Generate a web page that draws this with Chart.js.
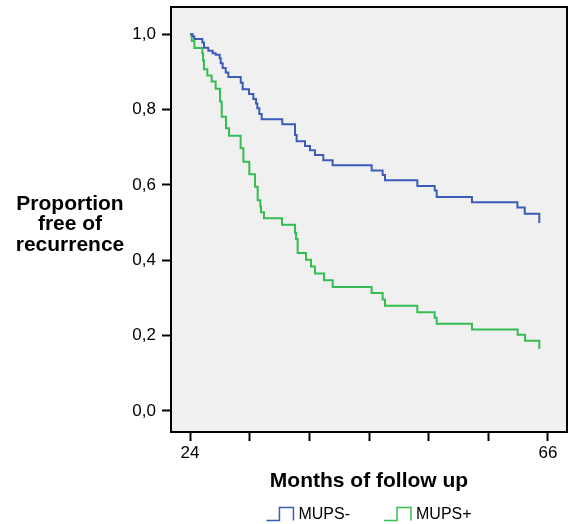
<!DOCTYPE html>
<html>
<head>
<meta charset="utf-8">
<script src="https://cdn.jsdelivr.net/npm/chart.js"></script>
<style>
  body { margin: 0; background: #fff; }
  #wrap { width: 571px; height: 524px; }
</style>
</head>
<body>
<div id="wrap"><canvas id="km"></canvas></div>
<script>
// Kaplan-Meier curves (months, proportion free of recurrence)
const monthsNeg = [24, 24.31, 24.51, 25.45, 25.64, 26.15, 26.66, 27.01, 27.48, 27.6,
  27.83, 28.19, 28.5, 29.95, 30.18, 30.92, 31.43, 31.75, 31.9, 32.13,
  32.41, 34.83, 36.32, 36.51, 37.49, 38.08, 38.66, 39.64, 40.73, 45.31,
  46.6, 46.88, 50.67, 52.71, 52.94, 57.08, 62.41, 63.27, 64.98];
const propNeg = [1.0, 0.994, 0.987, 0.978, 0.964, 0.956, 0.949, 0.945, 0.936, 0.923,
  0.910, 0.898, 0.886, 0.871, 0.854, 0.841, 0.828, 0.816, 0.803, 0.788,
  0.774, 0.761, 0.732, 0.716, 0.703, 0.692, 0.679, 0.665, 0.652, 0.638,
  0.626, 0.612, 0.597, 0.585, 0.568, 0.554, 0.540, 0.523, 0.499];

const monthsPos = [24, 24.2, 24.51, 25.45, 25.53, 25.64, 26.03, 26.54, 27.01, 27.52,
  27.72, 28.22, 28.58, 29.94, 30.26, 30.96, 31.63, 31.94, 32.25, 32.33,
  32.68, 34.79, 36.32, 36.44, 36.63, 37.61, 38.2, 38.66, 39.72, 40.74,
  45.31, 46.6, 46.88, 50.67, 52.7, 52.94, 57.08, 62.44, 63.3, 64.98];
const propPos = [1.0, 0.982, 0.963, 0.949, 0.930, 0.907, 0.890, 0.874, 0.855, 0.821,
  0.781, 0.750, 0.730, 0.697, 0.661, 0.628, 0.595, 0.559, 0.543, 0.527,
  0.511, 0.494, 0.473, 0.456, 0.419, 0.401, 0.383, 0.365, 0.347, 0.329,
  0.313, 0.296, 0.279, 0.262, 0.247, 0.231, 0.216, 0.202, 0.186, 0.165];

const seriesNames = ["MUPS-", "MUPS+"];
const xTicks = [24, 31, 38, 45, 52, 59, 66];
const xTickLabels = ["24", "", "", "", "", "", "66"];
const yTicks = [0, 0.2, 0.4, 0.6, 0.8, 1.0];

const FONT = '"Liberation Sans", Arial, Helvetica, sans-serif';
const BLUE = "#3d5bb9";
const GREEN = "#35bd52";

function toPoints(xs, ys) {
  return xs.map((x, i) => ({ x: x, y: ys[i] }));
}

// grey plot panel + black frame
const panel = {
  id: "panel",
  beforeDatasetsDraw(chart) {
    const { ctx, chartArea: a } = chart;
    ctx.save();
    ctx.fillStyle = "#f0f0f0";
    ctx.fillRect(a.left, a.top, a.right - a.left, a.bottom - a.top);
    ctx.restore();
  },
  afterDraw(chart) {
    const { ctx, chartArea: a } = chart;
    ctx.save();
    ctx.strokeStyle = "#000";
    ctx.lineWidth = 2;
    ctx.strokeRect(a.left, a.top, a.right - a.left, a.bottom - a.top);
    ctx.restore();
  }
};

// horizontal y title, SPSS style
const yTitle = {
  id: "yTitle",
  afterDraw(chart) {
    const ctx = chart.ctx;
    ctx.save();
    ctx.font = "bold 21px " + FONT;
    ctx.fillStyle = "#000";
    ctx.textAlign = "center";
    ctx.textBaseline = "alphabetic";
    ["Proportion", "free of", "recurrence"].forEach((t, i) => {
      ctx.fillText(t, 70, 209.5 + i * 20.8);
    });
    ctx.restore();
  }
};

// legend with little step icons, centred under the plot
const kmLegend = {
  id: "kmLegend",
  afterDraw(chart) {
    const { ctx, chartArea: a } = chart;
    ctx.save();
    ctx.font = "16px " + FONT;
    const items = chart.data.datasets.map(ds => ({
      label: ds.label, color: ds.borderColor, w: ctx.measureText(ds.label).width
    }));
    const iconW = 27, gap = 5, itemGap = 34;
    const total = items.reduce((s, it) => s + iconW + gap + it.w, 0) + itemGap * (items.length - 1);
    let x = (a.left + a.right) / 2 - total / 2;
    const yb = 520.5, yt = 507.5;
    items.forEach(it => {
      ctx.strokeStyle = it.color;
      ctx.lineWidth = 1.5;
      ctx.beginPath();
      ctx.moveTo(x, yb);
      ctx.lineTo(x + 13, yb);
      ctx.lineTo(x + 13, yt);
      ctx.lineTo(x + iconW, yt);
      ctx.lineTo(x + iconW, yb);
      ctx.stroke();
      ctx.fillStyle = "#000";
      ctx.textBaseline = "alphabetic";
      ctx.fillText(it.label, x + iconW + gap, 518.5);
      x += iconW + gap + it.w + itemGap;
    });
    ctx.restore();
  }
};

new Chart(document.getElementById("km"), {
  type: "line",
  data: {
    datasets: [
      {
        label: seriesNames[0],
        data: toPoints(monthsNeg, propNeg),
        borderColor: BLUE,
        borderWidth: 2,
        stepped: "before",
        pointRadius: 0,
        fill: false,
      },
      {
        label: seriesNames[1],
        data: toPoints(monthsPos, propPos),
        borderColor: GREEN,
        borderWidth: 2,
        stepped: "before",
        pointRadius: 0,
        fill: false,
      },
    ],
  },
  options: {
    responsive: true,
    maintainAspectRatio: false,
    animation: false,
    layout: { padding: { top: 7, right: 4, left: 0, bottom: 0 } },
    plugins: {
      legend: { display: false },
      tooltip: { enabled: false },
    },
    scales: {
      x: {
        type: "linear",
        min: 21.77,
        max: 68.23,
        afterBuildTicks: s => { s.ticks = xTicks.map(v => ({ value: v })); },
        afterFit: s => { s.height = 92; s.paddingLeft = 0; s.paddingRight = 0; },
        ticks: {
          color: "#000",
          font: { family: FONT, size: 17 },
          padding: 2,
          maxRotation: 0,
          callback: (v, i) => xTickLabels[i],
        },
        grid: { drawOnChartArea: false, tickLength: 9, tickWidth: 2, tickColor: "#000" },
        border: { display: false },
        title: {
          display: true,
          text: "Months of follow up",
          color: "#000",
          font: { family: FONT, size: 21, weight: "bold" },
          padding: { top: 4, bottom: 30 },
        },
      },
      y: {
        type: "linear",
        min: -0.056,
        max: 1.072,
        afterBuildTicks: s => { s.ticks = yTicks.map(v => ({ value: v })); },
        afterFit: s => { s.width = 171; s.paddingTop = 0; s.paddingBottom = 0; },
        ticks: {
          color: "#000",
          font: { family: FONT, size: 17 },
          padding: 6,
          callback: v => v.toFixed(1).replace(".", ","),
        },
        grid: { drawOnChartArea: false, tickLength: 9, tickWidth: 2, tickColor: "#000" },
        border: { display: false },
      },
    },
  },
  plugins: [panel, yTitle, kmLegend],
});
</script>
</body>
</html>
